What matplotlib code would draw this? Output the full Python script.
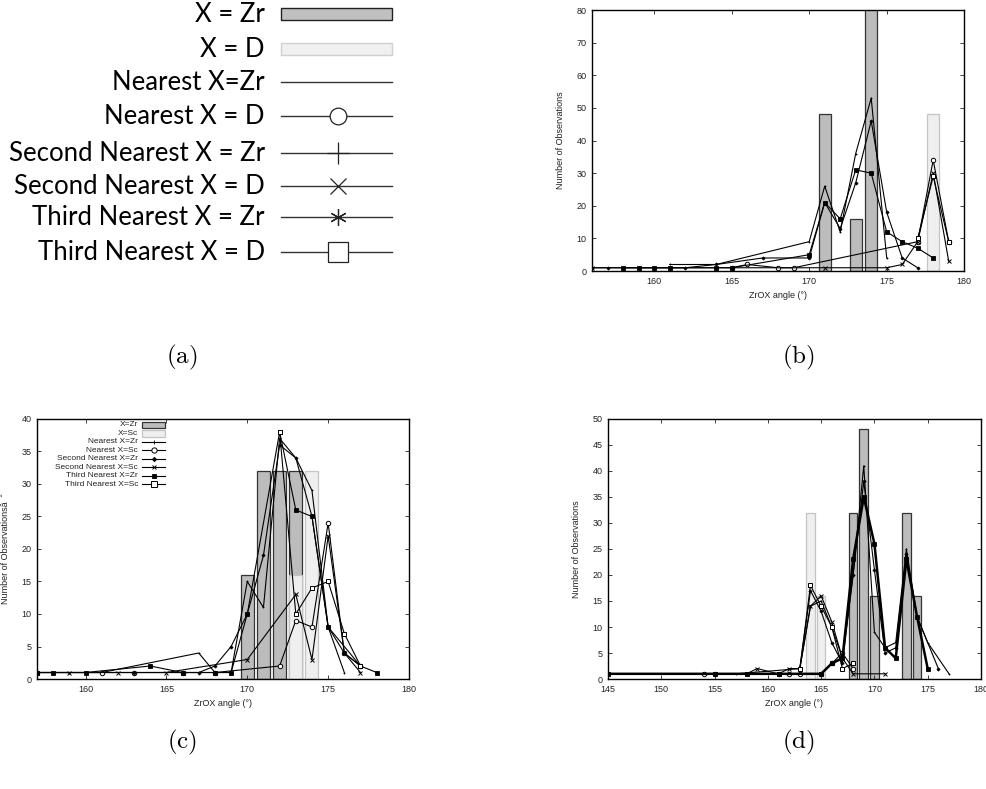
import numpy as np
import matplotlib.pyplot as plt
from matplotlib.lines import Line2D
from matplotlib.patches import Rectangle

plt.rcParams['font.family'] = ['Liberation Sans', 'DejaVu Sans']
plt.rcParams['mathtext.fontset'] = 'cm'

# ---- panel (b): X = Zr / X = D ----
b_zr_x = [171, 173, 174]
b_zr_y = [48, 16, 96]
b_d_x = [178]
b_d_y = [48]

b_near_zr_x = [161, 164, 170, 171, 172, 173, 174, 175]
b_near_zr_y = [2, 2, 9, 26, 12, 36, 53, 4]
b_near_d_x = [165, 166, 168, 169, 177, 178, 179]
b_near_d_y = [1, 2, 1, 1, 9, 34, 9]
b_sec_zr_x = [156, 157, 158, 159, 160, 161, 162, 164, 167, 170, 171, 172, 173, 174, 175, 176, 177]
b_sec_zr_y = [1, 1, 1, 1, 1, 1, 1, 2, 4, 4, 21, 13, 27, 46, 18, 4, 1]
b_sec_d_x = [156, 171, 175, 176, 177, 178, 179]
b_sec_d_y = [1, 1, 1, 2, 9, 30, 3]
b_thr_zr_x = [158, 159, 160, 161, 164, 165, 170, 171, 172, 173, 174, 175, 176, 177, 178]
b_thr_zr_y = [1, 1, 1, 1, 1, 1, 5, 21, 16, 31, 30, 12, 9, 7, 4]
b_thr_d_x = [177, 178, 179]
b_thr_d_y = [10, 29, 9]

# ---- panel (c): X = Zr / X = Sc ----
c_zr_x = [170, 171, 172, 173]
c_zr_y = [16, 32, 32, 32]
c_sc_x = [173, 174]
c_sc_y = [16, 32]

c_near_zr_x = [157, 158, 159, 160, 161, 167, 168, 169, 170, 171, 172, 173, 174, 175, 176]
c_near_zr_y = [1, 1, 1, 1, 1, 4, 1, 1, 15, 11, 37, 34, 29, 8, 1]
c_near_sc_x = [157, 161, 163, 166, 168, 172, 173, 174, 175, 176, 177]
c_near_sc_y = [1, 1, 1, 1, 1, 2, 9, 8, 24, 4, 2]
c_sec_zr_x = [157, 160, 163, 167, 168, 169, 170, 171, 172, 173, 174, 175, 176, 177]
c_sec_zr_y = [1, 1, 1, 1, 2, 5, 10, 19, 36, 34, 25, 8, 4, 2]
c_sec_sc_x = [157, 159, 162, 165, 170, 173, 174, 175, 176, 177]
c_sec_sc_y = [1, 1, 1, 1, 3, 13, 3, 22, 4, 1]
c_thr_zr_x = [157, 158, 160, 164, 166, 168, 169, 170, 172, 173, 174, 175, 177, 178]
c_thr_zr_y = [1, 1, 1, 2, 1, 1, 1, 10, 38, 26, 25, 8, 2, 1]
c_thr_sc_x = [172, 173, 174, 175, 176, 177]
c_thr_sc_y = [38, 10, 14, 15, 7, 2]

# ---- panel (d): X = Zr / X = Sc ----
d_zr_x = [168, 169, 170, 173, 174]
d_zr_y = [32, 48, 16, 32, 16]
d_sc_x = [164, 165]
d_sc_y = [32, 16]

d_near_zr_x = [157, 163, 164, 165, 166, 167, 168, 169, 170, 171, 172, 173, 174, 175, 177]
d_near_zr_y = [1, 2, 14, 15, 10, 4, 20, 41, 9, 6, 7, 25, 12, 7, 1]
d_near_sc_x = [154, 155, 161, 162, 163, 165, 166, 167, 168]
d_near_sc_y = [1, 1, 1, 1, 1, 1, 3, 5, 2]
d_sec_zr_x = [163, 164, 165, 166, 167, 168, 169, 170, 171, 172, 173, 174, 176]
d_sec_zr_y = [2, 17, 13, 7, 3, 20, 38, 21, 5, 6, 24, 12, 2]
d_sec_sc_x = [145, 158, 159, 161, 162, 163, 164, 165, 166, 167, 168, 171]
d_sec_sc_y = [1, 1, 2, 1, 2, 2, 14, 16, 11, 4, 1, 1]
d_thr_zr_x = [145, 155, 158, 161, 165, 166, 167, 168, 169, 170, 171, 172, 173, 174, 175]
d_thr_zr_y = [1, 1, 1, 1, 1, 3, 4, 23, 35, 26, 6, 4, 23, 12, 2]
d_thr_sc_x = [163, 164, 165, 166, 167, 168]
d_thr_sc_y = [2, 18, 14, 10, 2, 3]

ZR_FACE, ZR_EDGE = '#bcbcbc', '#333333'
SC_FACE, SC_EDGE = '#efefef', '#c4c4c4'

# marker style per series, in legend order
styles = [
    dict(marker='+', ms=2.0, mew=0.6, lw=0.8),
    dict(marker='o', ms=3.2, mew=0.7, mfc='white', lw=0.8),
    dict(marker='D', ms=1.6, mew=0.6, lw=0.8),
    dict(marker='x', ms=2.8, mew=0.7, lw=0.8),
    dict(marker='s', ms=2.4, mew=0.6, lw=0.8),
    dict(marker='s', ms=3.2, mew=0.7, mfc='white', lw=0.8),
]


def draw_panel(ax, zr, sc, lines, xlim, ylim, xticks, yticks, ylabel, thick=None):
    ax.bar(zr[0], zr[1], width=0.8, color=ZR_FACE, edgecolor=ZR_EDGE, lw=0.9, zorder=1)
    ax.bar(sc[0], sc[1], width=0.8, color=SC_FACE, edgecolor=SC_EDGE, lw=0.9, zorder=1)
    for i, (x, y) in enumerate(lines):
        st = dict(styles[i])
        if thick is not None and i == thick:
            st['lw'] = 1.8
        ax.plot(x, y, color='black', mec='black', zorder=3, clip_on=True, **st)
    ax.set_xlim(*xlim)
    ax.set_ylim(*ylim)
    ax.set_xticks(xticks)
    ax.set_yticks(yticks)
    ax.tick_params(direction='in', top=True, right=True, labelsize=6.5,
                   length=3, width=0.6, colors='#222222', pad=4)
    for s in ax.spines.values():
        s.set_linewidth(1.0)
    ax.set_xlabel('ZrOX angle (°)', fontsize=6.5, color='#222222', labelpad=4)
    ax.set_ylabel(ylabel, fontsize=6.5, color='#222222', labelpad=8)


fig = plt.figure(figsize=(9.87, 7.89), dpi=100)

# panel (b)
ax_b = fig.add_axes([0.600, 0.6565, 0.3769, 0.3308])
draw_panel(ax_b, (b_zr_x, b_zr_y), (b_d_x, b_d_y),
           [(b_near_zr_x, b_near_zr_y), (b_near_d_x, b_near_d_y),
            (b_sec_zr_x, b_sec_zr_y), (b_sec_d_x, b_sec_d_y),
            (b_thr_zr_x, b_thr_zr_y), (b_thr_d_x, b_thr_d_y)],
           (156, 180), (0, 80), range(160, 181, 5), range(0, 81, 10),
           'Number of Observations')

# panel (c)
ax_c = fig.add_axes([0.0375, 0.1394, 0.3769, 0.3296])
draw_panel(ax_c, (c_zr_x, c_zr_y), (c_sc_x, c_sc_y),
           [(c_near_zr_x, c_near_zr_y), (c_near_sc_x, c_near_sc_y),
            (c_sec_zr_x, c_sec_zr_y), (c_sec_sc_x, c_sec_sc_y),
            (c_thr_zr_x, c_thr_zr_y), (c_thr_sc_x, c_thr_sc_y)],
           (157, 180), (0, 40), range(160, 181, 5), range(0, 41, 5),
           'Number of Observationsâ  ˆ')

# in-axes key for panel (c), gnuplot style: text right-aligned, sample to the right
key_labels = ['X=Zr', 'X=Sc', 'Nearest X=Zr', 'Nearest X=Sc', 'Second Nearest X=Zr',
              'Second Nearest X=Sc', 'Third Nearest X=Zr', 'Third Nearest X=Sc']
key_y = 0.977
for i, lab in enumerate(key_labels):
    yy = key_y - i * 0.0325
    ax_c.text(0.272, yy, lab, transform=ax_c.transAxes, ha='right', va='center',
              fontsize=6.0, color='#222222')
    if i == 0:
        ax_c.add_patch(Rectangle((0.283, yy - 0.012), 0.062, 0.024, transform=ax_c.transAxes,
                                 facecolor=ZR_FACE, edgecolor=ZR_EDGE, lw=0.9, zorder=4))
    elif i == 1:
        ax_c.add_patch(Rectangle((0.283, yy - 0.012), 0.062, 0.024, transform=ax_c.transAxes,
                                 facecolor=SC_FACE, edgecolor=SC_EDGE, lw=0.9, zorder=4))
    else:
        st = styles[i - 2]
        ax_c.add_line(Line2D([0.283, 0.345], [yy, yy], transform=ax_c.transAxes,
                             color='black', lw=st['lw'], zorder=4))
        ax_c.add_line(Line2D([0.314], [yy], transform=ax_c.transAxes, color='black',
                             marker=st['marker'], ms=st['ms'] + 0.6, mew=st['mew'],
                             mfc=st.get('mfc', 'black'), mec='black', zorder=4))

# panel (d)
ax_d = fig.add_axes([0.616, 0.1394, 0.3779, 0.3296])
draw_panel(ax_d, (d_zr_x, d_zr_y), (d_sc_x, d_sc_y),
           [(d_near_zr_x, d_near_zr_y), (d_near_sc_x, d_near_sc_y),
            (d_sec_zr_x, d_sec_zr_y), (d_sec_sc_x, d_sec_sc_y),
            (d_thr_zr_x, d_thr_zr_y), (d_thr_sc_x, d_thr_sc_y)],
           (145, 180), (0, 50), range(145, 181, 5), range(0, 51, 5),
           'Number of Observations', thick=4)

# panel (a): the shared key, drawn in pixel coordinates
ax_a = fig.add_axes([0, 0, 1, 1], zorder=-1)
ax_a.set_xlim(0, 987)
ax_a.set_ylim(789, 0)
ax_a.axis('off')

big_labels = ['X = Zr', 'X = D', 'Nearest X=Zr', 'Nearest X = D', 'Second Nearest X = Zr',
              'Second Nearest X = D', 'Third Nearest X = Zr', 'Third Nearest X = D']
big_rows = [14, 49, 82, 116, 153, 186, 217, 252]
big_markers = [None, None, None,
               dict(marker='o', ms=12, mfc='white'),
               dict(marker='+', ms=16),
               dict(marker='x', ms=12),
               dict(marker=(6, 2, 0), ms=12),
               dict(marker='s', ms=14, mfc='white')]
for lab, yy, mk in zip(big_labels, big_rows, big_markers):
    ax_a.text(265, yy, lab, ha='right', va='center', fontsize=18.5,
              family=['Lato', 'DejaVu Sans'], color='black')
    if lab == 'X = Zr':
        ax_a.add_patch(Rectangle((281, yy - 6), 111, 12, facecolor='#c0c0c0',
                                 edgecolor='#222222', lw=1.0))
    elif lab == 'X = D':
        ax_a.add_patch(Rectangle((281, yy - 6), 111, 12, facecolor='#f0f0f0',
                                 edgecolor='#d0d0d0', lw=1.0))
    else:
        ax_a.plot([281, 392], [yy, yy], color='#333333', lw=1.0)
        if mk is not None:
            ax_a.plot([338], [yy], color='#333333', mec='#222222', mew=0.9,
                      mfc=mk.get('mfc', 'none'), marker=mk['marker'], ms=mk['ms'])

for lab, xx, yy in [('(a)', 182, 357), ('(b)', 798, 357), ('(c)', 182, 742), ('(d)', 798, 742)]:
    ax_a.text(xx, yy, r'$\mathrm{' + lab + '}$', ha='center', va='center', fontsize=18)

fig.savefig('out.png', dpi=100)
